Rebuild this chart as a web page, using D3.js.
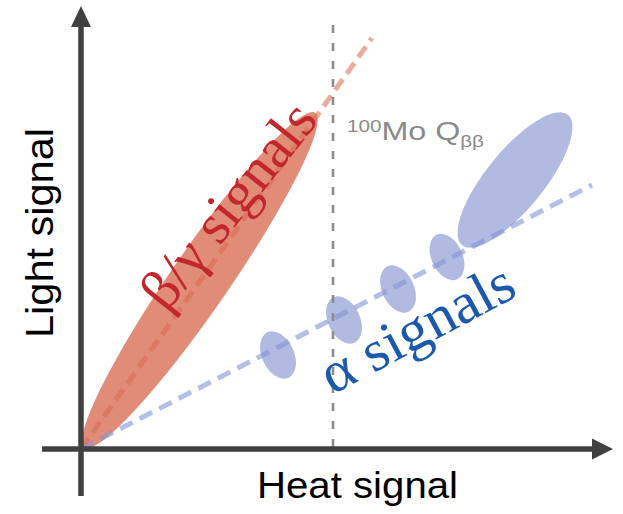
<!DOCTYPE html>
<html>
<head>
<meta charset="utf-8">
<script src="https://cdn.jsdelivr.net/npm/d3@7"></script>
<style>
  html, body { margin: 0; padding: 0; background: #fff; }
  svg { display: block; }
</style>
</head>
<body>
<svg id="chart" width="623" height="514"></svg>
<script>
// ---- data (arbitrary heat / light units) ----
const axisTitles = ["Heat signal", "Light signal"];
const bandLabels = ["β/γ signals", "α signals"];
const qLabel = ["100", "Mo Q", "ββ"];
// ellipses: [centerHeat, centerLight, semiMajor, semiMinor, angleDeg]
const betaBand = [2.38, 3.38, 4.06, 0.58, 55.4];
const alphaBlobs = [
  [3.94, 1.88, 0.50, 0.32, 115],
  [5.26, 2.58, 0.50, 0.32, 115],
  [6.34, 3.20, 0.50, 0.32, 115],
  [7.32, 3.84, 0.49, 0.31, 115],
  [8.68, 5.38, 1.68, 0.58, 51]
];
const betaLine = [[0, 0], [5.82, 8.22]];
const alphaLine = [[0, 0], [10.22, 5.28]];
const qbbHeat = 5.04;
const qbbTop = 8.48;
const xAxisExtent = [-0.78, 10.64];
const yAxisExtent = [-0.94, 8.86];

// ---- scales ----
const x = d3.scaleLinear().domain([0, 11]).range([81, 631]);
const y = d3.scaleLinear().domain([0, 9]).range([449, -1]);
const k = x(1) - x(0);

const svg = d3.select("#chart");

function drawEllipse(g, e, fill, op) {
  g.append("ellipse")
    .attr("transform", `translate(${x(e[0])},${y(e[1])}) rotate(${-e[4]})`)
    .attr("rx", e[2] * k)
    .attr("ry", e[3] * k)
    .attr("fill", fill)
    .attr("fill-opacity", op);
}

// beta/gamma band
drawEllipse(svg, betaBand, "#e08c77", 1);

// beta/gamma dashed line
svg.append("line")
  .attr("x1", x(betaLine[0][0])).attr("y1", y(betaLine[0][1]))
  .attr("x2", x(betaLine[1][0])).attr("y2", y(betaLine[1][1]))
  .attr("stroke", "rgb(218,104,80)").attr("stroke-opacity", 0.55)
  .attr("stroke-width", 5).attr("stroke-dasharray", "13,7");

// alpha blobs
alphaBlobs.forEach(e => drawEllipse(svg, e, "#b1bae0", 1));

// alpha dashed line
svg.append("line")
  .attr("x1", x(alphaLine[0][0])).attr("y1", y(alphaLine[0][1]))
  .attr("x2", x(alphaLine[1][0])).attr("y2", y(alphaLine[1][1]))
  .attr("stroke", "rgb(130,148,214)").attr("stroke-opacity", 0.6)
  .attr("stroke-width", 5).attr("stroke-dasharray", "14,8");

// Q_bb vertical line
svg.append("line")
  .attr("x1", x(qbbHeat)).attr("y1", y(qbbTop))
  .attr("x2", x(qbbHeat)).attr("y2", y(0))
  .attr("stroke", "#8c8c8c").attr("stroke-width", 2.6)
  .attr("stroke-dasharray", "8,10");

// Q_bb label
const ql = svg.append("text")
  .attr("x", 347).attr("y", 140)
  .attr("font-family", "Liberation Sans, Arial, sans-serif")
  .attr("fill", "#8a8a8a")
  .attr("textLength", 137).attr("lengthAdjust", "spacingAndGlyphs");
ql.append("tspan").attr("font-size", 16).attr("dy", -8).text(qLabel[0]);
ql.append("tspan").attr("font-size", 25).attr("dy", 8).text(qLabel[1]);
ql.append("tspan").attr("font-size", 16).attr("dy", 7).text(qLabel[2]);

// band labels
svg.append("text")
  .attr("transform", "translate(243,217) rotate(-51.5)")
  .attr("text-anchor", "middle")
  .attr("font-family", "Liberation Serif, Times New Roman, serif")
  .attr("font-size", 57)
  .attr("fill", "#c1272d")
  .attr("textLength", 246).attr("lengthAdjust", "spacingAndGlyphs")
  .text(bandLabels[0]);

svg.append("text")
  .attr("transform", "translate(426,345) rotate(-28.2)")
  .attr("text-anchor", "middle")
  .attr("font-family", "Liberation Serif, Times New Roman, serif")
  .attr("font-size", 58)
  .attr("fill", "#1b5aab")
  .attr("textLength", 212).attr("lengthAdjust", "spacingAndGlyphs")
  .text(bandLabels[1]);

// axes
const axisColor = "#404040";
svg.append("line")
  .attr("x1", x(xAxisExtent[0])).attr("y1", y(0))
  .attr("x2", x(xAxisExtent[1]) - 20).attr("y2", y(0))
  .attr("stroke", axisColor).attr("stroke-width", 5.5);
svg.append("path")
  .attr("d", `M${x(xAxisExtent[1])},${y(0)} L${x(xAxisExtent[1]) - 21},${y(0) - 10.5} L${x(xAxisExtent[1]) - 21},${y(0) + 10.5} Z`)
  .attr("fill", axisColor);
svg.append("line")
  .attr("x1", x(0)).attr("y1", y(yAxisExtent[0]))
  .attr("x2", x(0)).attr("y2", y(yAxisExtent[1]) + 20)
  .attr("stroke", axisColor).attr("stroke-width", 5.5);
svg.append("path")
  .attr("d", `M${x(0)},${y(yAxisExtent[1])} L${x(0) - 10},${y(yAxisExtent[1]) + 21} L${x(0) + 10},${y(yAxisExtent[1]) + 21} Z`)
  .attr("fill", axisColor);

// axis titles
svg.append("text")
  .attr("x", 357.5).attr("y", 498)
  .attr("text-anchor", "middle")
  .attr("font-family", "Liberation Sans, Arial, sans-serif")
  .attr("font-size", 37)
  .attr("fill", "#000")
  .attr("textLength", 201).attr("lengthAdjust", "spacingAndGlyphs")
  .text(axisTitles[0]);

svg.append("text")
  .attr("transform", "translate(53,233) rotate(-90)")
  .attr("text-anchor", "middle")
  .attr("font-family", "Liberation Sans, Arial, sans-serif")
  .attr("font-size", 39)
  .attr("fill", "#000")
  .attr("textLength", 210).attr("lengthAdjust", "spacingAndGlyphs")
  .text(axisTitles[1]);
</script>
</body>
</html>
